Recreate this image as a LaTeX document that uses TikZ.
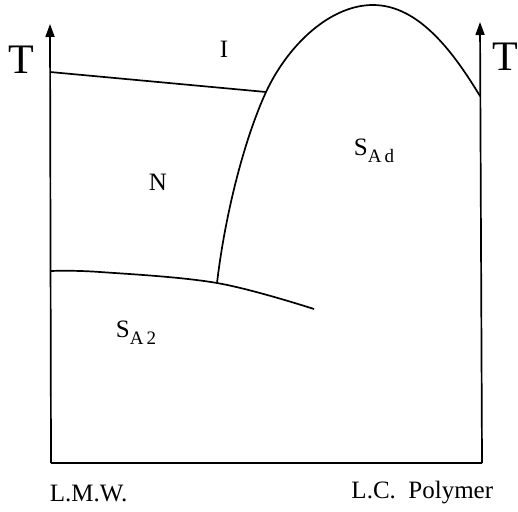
\documentclass[tikz,border=0pt]{standalone}
\usepackage{fontspec}
\setmainfont{Liberation Serif}
\usepackage{tikz}
\usetikzlibrary{arrows.meta}
\def\phsub#1{\raisebox{-0.3em}{\fontsize{19}{19}\selectfont #1}}

\begin{document}
\begin{tikzpicture}[x=1pt, y=-1pt, line width=1.7pt,
    phase/.style={anchor=base, font=\fontsize{25}{25}\selectfont, inner sep=0pt},
    axislabel/.style={anchor=base, font=\fontsize{42}{42}\selectfont, inner sep=0pt},
    tip/.style={-{Triangle[length=13pt, width=9pt]}}]
    \useasboundingbox (0,0) rectangle (518,511);

    % frame of the diagram
    \coordinate (o) at (51,463);
    \coordinate (e) at (482,463);
    \coordinate (ltop) at (50,24);
    \coordinate (rtop) at (480,22);
    \draw[tip] (o) -- (ltop);
    \draw[tip] (e) -- (rtop);
    \draw (o) -- (e);

    % phase boundaries
    \coordinate (ni) at (50,72);
    \coordinate (triple) at (266,92);
    \coordinate (sa) at (51,271);
    \coordinate (foot) at (217,283);
    \coordinate (send) at (314,309);
    \coordinate (top) at (373,5);
    \coordinate (rend) at (480,96);
    \draw (ni) -- (triple);
    \draw plot[smooth, tension=0.6] coordinates
        {(sa) (100,272) (foot) (send)};
    \draw (foot) .. controls (225,215) and (244,140) .. (triple)
        .. controls (288,45) and (330,5) .. (top)
        .. controls (420,5) and (455,55) .. (rend);

    % labels
    \node[axislabel] (tl) at (21,73) {T};
    \node[axislabel] (tr) at (505,70) {T};
    \node[phase] (iso) at (224,57) {I};
    \node[phase] (nem) at (158,190) {N};
    \node[phase, anchor=base west] (sad) at (353,155) {S\phsub{A\,d}};
    \node[phase, anchor=base west] (sa2) at (115,337) {S\phsub{A\,2}};
    \node[phase, anchor=base west] (lmw) at (49,501) {L.M.W.};
    \node[phase, anchor=base east] (lcp) at (494,498) {L.C.\ \ Polymer};
\end{tikzpicture}
\end{document}
